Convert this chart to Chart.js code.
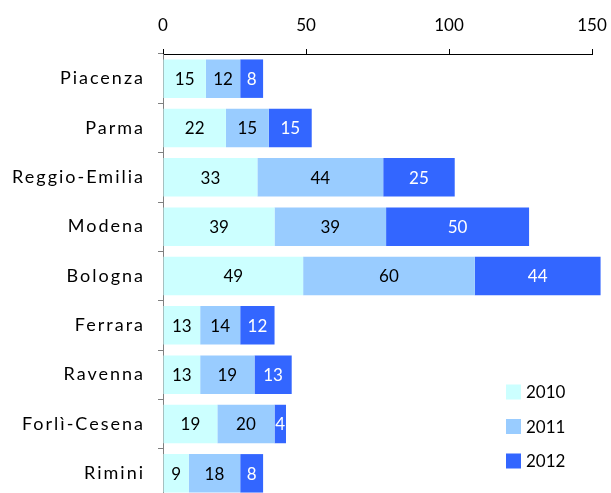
<!DOCTYPE html>
<html>
<head>
<meta charset="utf-8">
<script src="https://cdn.jsdelivr.net/npm/chart.js@4"></script>
<style>
  body { margin: 0; background: #fff; overflow: hidden; }
</style>
</head>
<body>
<canvas id="barChart" width="611" height="498"></canvas>
<script>
// values
const PROVINCES = ['Piacenza', 'Parma', 'Reggio-Emilia', 'Modena', 'Bologna', 'Ferrara', 'Ravenna', 'Forlì-Cesena', 'Rimini'];
const YEARS = ['2010', '2011', '2012'];
const VALUES_2010 = [15, 22, 33, 39, 49, 13, 13, 19, 9];
const VALUES_2011 = [12, 15, 44, 39, 60, 14, 19, 20, 18];
const VALUES_2012 = [8, 15, 25, 50, 44, 12, 13, 4, 8];
const X_TICKS = [0, 50, 100, 150];

const COLORS = ['#CCFFFF', '#99CCFF', '#3366FF'];
const LABEL_COLORS = ['#000000', '#000000', '#ffffff'];
const FONT = 'Lato';

Chart.defaults.font.family = FONT;
Chart.defaults.font.size = 17;
Chart.defaults.color = '#000';

// numbers inside each bar segment
const barLabels = {
    id: 'barLabels',
    afterDatasetsDraw(chart) {
        const ctx = chart.ctx;
        ctx.save();
        ctx.font = '17px ' + FONT;
        ctx.textAlign = 'center';
        ctx.textBaseline = 'middle';
        chart.data.datasets.forEach(function(ds, i) {
            const meta = chart.getDatasetMeta(i);
            meta.data.forEach(function(bar, j) {
                const x = (bar.x + bar.base) / 2;
                ctx.fillStyle = LABEL_COLORS[i];
                ctx.fillText(ds.data[j], x, bar.y + 1);
            });
        });
        ctx.restore();
    }
};

// legend sits inside the plot, bottom right
const boxLegend = {
    id: 'boxLegend',
    afterDraw(chart) {
        const ctx = chart.ctx;
        ctx.save();
        ctx.font = '17px ' + FONT;
        ctx.textBaseline = 'middle';
        chart.data.datasets.forEach(function(ds, i) {
            const y = 392 + i * 34.5;
            ctx.fillStyle = ds.backgroundColor;
            ctx.fillRect(506, y - 7.5, 15, 15);
            ctx.fillStyle = '#000';
            ctx.fillText(ds.label, 526, y + 1);
        });
        ctx.restore();
    }
};

// the province names are spaced out a bit in the original
function spreadLabels(scale) {
    scale.width = 163;
    scale.paddingTop = 0;
    scale.paddingBottom = 0;
    if (!scale._spread) {
        const orig = scale.drawLabels;
        scale.drawLabels = function(area) {
            this.ctx.save();
            this.ctx.letterSpacing = '2px';
            orig.call(this, area);
            this.ctx.restore();
        };
        scale._spread = true;
    }
}

const ctx = document.getElementById('barChart').getContext('2d');
const myChart = new Chart(ctx, {
    type: 'bar',
    data: {
        labels: PROVINCES,
        datasets: [
            { label: YEARS[0], data: VALUES_2010, backgroundColor: COLORS[0], clip: false },
            { label: YEARS[1], data: VALUES_2011, backgroundColor: COLORS[1], clip: false },
            { label: YEARS[2], data: VALUES_2012, backgroundColor: COLORS[2], clip: false }
        ]
    },
    options: {
        indexAxis: 'y',
        responsive: false,
        animation: false,
        barPercentage: 0.78,
        categoryPercentage: 1,
        layout: { padding: { top: 0, right: 19, bottom: 0, left: 0 } },
        plugins: {
            legend: { display: false },
            tooltip: { enabled: false }
        },
        scales: {
            x: {
                position: 'top',
                stacked: true,
                min: 0,
                max: 150,
                afterBuildTicks: function(scale) {
                    scale.ticks = X_TICKS.map(function(v) { return { value: v }; });
                },
                afterFit: function(scale) {
                    scale.height = 54;
                    scale.paddingLeft = 0;
                    scale.paddingRight = 0;
                },
                ticks: { padding: 13, font: { size: 17 } },
                grid: { drawOnChartArea: false, tickLength: 5, color: '#000' },
                border: { color: '#000' }
            },
            y: {
                stacked: true,
                afterFit: spreadLabels,
                ticks: { padding: 13, font: { size: 18 } },
                grid: { drawOnChartArea: false, tickLength: 5, color: '#808080', offset: true },
                border: { color: '#808080' }
            }
        }
    },
    plugins: [barLabels, boxLegend]
});
</script>
</body>
</html>
